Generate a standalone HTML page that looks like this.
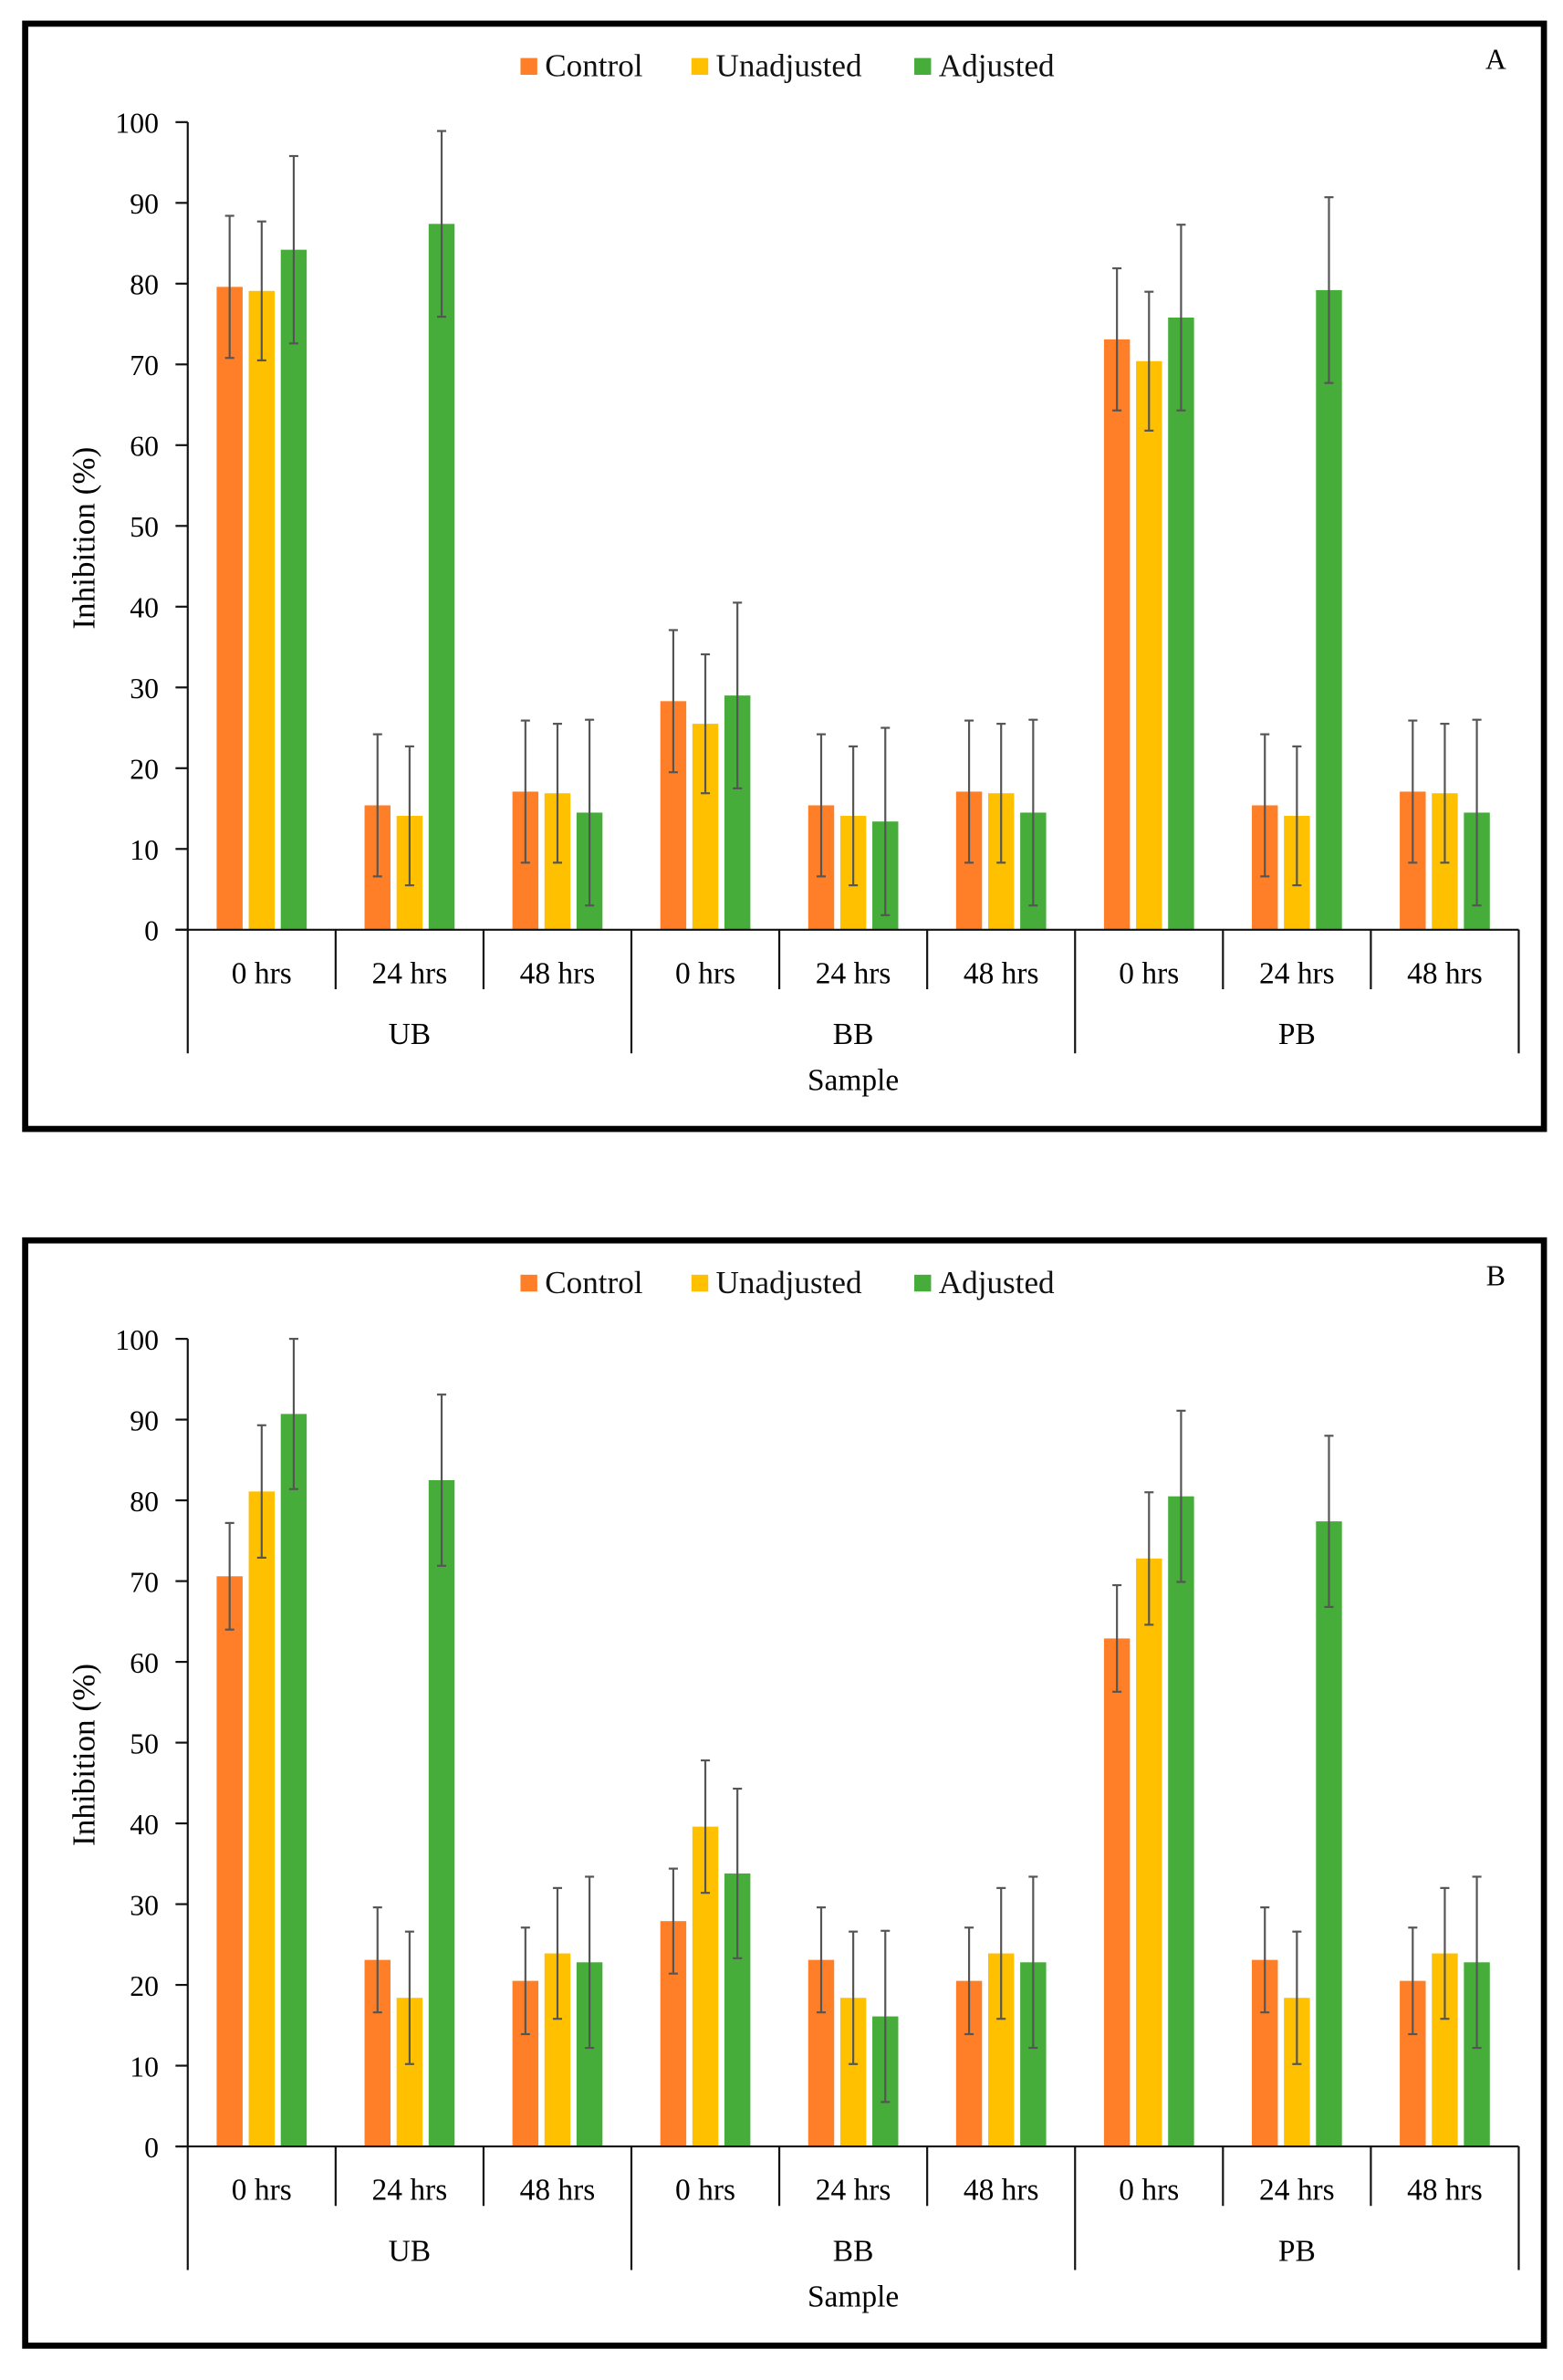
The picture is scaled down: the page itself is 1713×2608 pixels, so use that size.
<!DOCTYPE html>
<html><head><meta charset="utf-8"><style>
html,body{margin:0;padding:0;background:#fff;}
svg{display:block;}
svg text{font-family:"Liberation Serif","Times New Roman",serif;}
</style></head><body>
<svg id="fig" width="1713" height="2608" viewBox="0 0 1024 1559" preserveAspectRatio="none" xmlns="http://www.w3.org/2000/svg" font-family="Liberation Serif, serif"></svg>
<script>
const categories = ["0 hrs","24 hrs","48 hrs","0 hrs","24 hrs","48 hrs","0 hrs","24 hrs","48 hrs"];
const groups = ["UB","BB","PB"];
const seriesNames = ["Control","Unadjusted","Adjusted"];
const yTicks = [0,10,20,30,40,50,60,70,80,90,100];
const aControl = [79.6,15.4,17.1,28.3,15.4,17.1,73.1,15.4,17.1];
const aUnadj   = [79.1,14.1,16.9,25.5,14.1,16.9,70.4,14.1,16.9];
const aAdj     = [84.2,87.4,14.5,29.0,13.4,14.5,75.8,79.2,14.5];
const aControlErr = [8.8,8.8,8.8,8.8,8.8,8.8,8.8,8.8,8.8];
const aUnadjErr   = [8.6,8.6,8.6,8.6,8.6,8.6,8.6,8.6,8.6];
const aAdjErr     = [11.6,11.5,11.5,11.5,11.6,11.5,11.5,11.5,11.5];
const bControl = [70.6,23.1,20.5,27.9,23.1,20.5,62.9,23.1,20.5];
const bUnadj   = [81.1,18.4,23.9,39.6,18.4,23.9,72.8,18.4,23.9];
const bAdj     = [90.7,82.5,22.8,33.8,16.1,22.8,80.5,77.4,22.8];
const bControlErr = [6.6,6.5,6.6,6.5,6.5,6.6,6.6,6.5,6.6];
const bUnadjErr   = [8.2,8.2,8.1,8.2,8.2,8.1,8.2,8.2,8.1];
const bAdjErr     = [9.3,10.6,10.6,10.5,10.6,10.6,10.6,10.6,10.6];

const colors = ["#FE7F27","#FFC000","#46AD3A"];
const FONT = '"Liberation Serif", "Times New Roman", serif';
const NS = "http://www.w3.org/2000/svg";
const svg = document.getElementById("fig");
function mk(tag, attrs, parent, text){
  const e = document.createElementNS(NS, tag);
  for (const k in attrs) e.setAttribute(k, attrs[k]);
  if (text !== undefined) { e.textContent = text; e.setAttribute("font-family", FONT); e.style.fontFamily = FONT; }
  parent.appendChild(e);
  return e;
}
function panel(off, letter, vals, errs, key){
  const g = mk("g", {}, svg);
  
  
  const fr = mk("rect", {x:16.5,y:15.5+off,width:995,height:724,fill:"#fff",stroke:"#000","stroke-width":4}, g);
  
  
  const x0 = 123, x1 = 995, y0 = 609 + off, y100 = 80 + off;
  const cw = (x1 - x0) / categories.length;
  const yS = v => y0 - (y0 - y100) * v / 100;
  const lx = [341, 453, 599];
  seriesNames.forEach((n, i) => {
    const lg = mk("g", {}, g);
    
    
    mk("rect", {x:lx[i], y:38+off, width:11, height:11, fill:colors[i]}, lg);
    mk("text", {x:lx[i]+16, y:50+off, "font-size":21, fill:"#111"}, lg, n);
  });
  const lt = mk("text", {x:980, y:45+off, "font-size":19, "text-anchor":"middle"}, g, letter);
  
  
  yTicks.forEach(t => {
    mk("line", {x1:115, x2:x0, y1:yS(t), y2:yS(t), stroke:"#111", "stroke-width":1.3}, g);
    const tl = mk("text", {x:104, y:yS(t)+7, "font-size":19, "text-anchor":"end"}, g, t);
    
    
  });
  const yt = mk("text", {transform:`translate(62,${(y0+y100)/2+8}) rotate(-90)`, "font-size":21, "text-anchor":"middle"}, g, "Inhibition  (%)");
  
  
  const bw = 17, gap = 4;
  categories.forEach((c, ci) => {
    const cx = x0 + cw * (ci + 0.5);
    for (let s = 0; s < 3; s++){
      const bx = cx + (s - 1) * (bw + gap) - bw / 2;
      const v = vals[s][ci], e = errs[s][ci];
      const r = mk("rect", {x:bx, y:yS(v), width:bw, height:y0 - yS(v), fill:colors[s]}, g);
      
      
      const ex = bx + bw / 2;
      const eb = mk("g", {stroke:"#555", "stroke-width":1.3}, g);
      
      
      mk("line", {x1:ex, x2:ex, y1:yS(v+e), y2:yS(v-e)}, eb);
      mk("line", {x1:ex-3, x2:ex+3, y1:yS(v+e), y2:yS(v+e)}, eb);
      mk("line", {x1:ex-3, x2:ex+3, y1:yS(v-e), y2:yS(v-e)}, eb);
    }
    const cl = mk("text", {x:cx, y:644+off, "font-size":20, "text-anchor":"middle"}, g, c);
    
    
  });
  mk("line", {x1:x0, x2:x0, y1:y100, y2:y0, stroke:"#111", "stroke-width":1.3}, g);
  mk("line", {x1:115, x2:x1, y1:y0, y2:y0, stroke:"#111", "stroke-width":1.3}, g);
  for (let i = 0; i <= categories.length; i++){
    const xx = x0 + cw * i;
    const big = i % 3 === 0;
    mk("line", {x1:xx, x2:xx, y1:y0, y2:(big ? 690 : 648) + off, stroke:"#111", "stroke-width":1.3}, g);
  }
  groups.forEach((gr, gi) => {
    const gl = mk("text", {x:x0 + cw * (gi * 3 + 1.5), y:684+off, "font-size":20, "text-anchor":"middle"}, g, gr);
    
    
  });
  const xt = mk("text", {x:559, y:714+off, "font-size":20, "text-anchor":"middle"}, g, "Sample");
  
  
}
panel(0, "A", [aControl, aUnadj, aAdj], [aControlErr, aUnadjErr, aAdjErr], "a");
panel(797, "B", [bControl, bUnadj, bAdj], [bControlErr, bUnadjErr, bAdjErr], "b");
</script>
</body></html>
